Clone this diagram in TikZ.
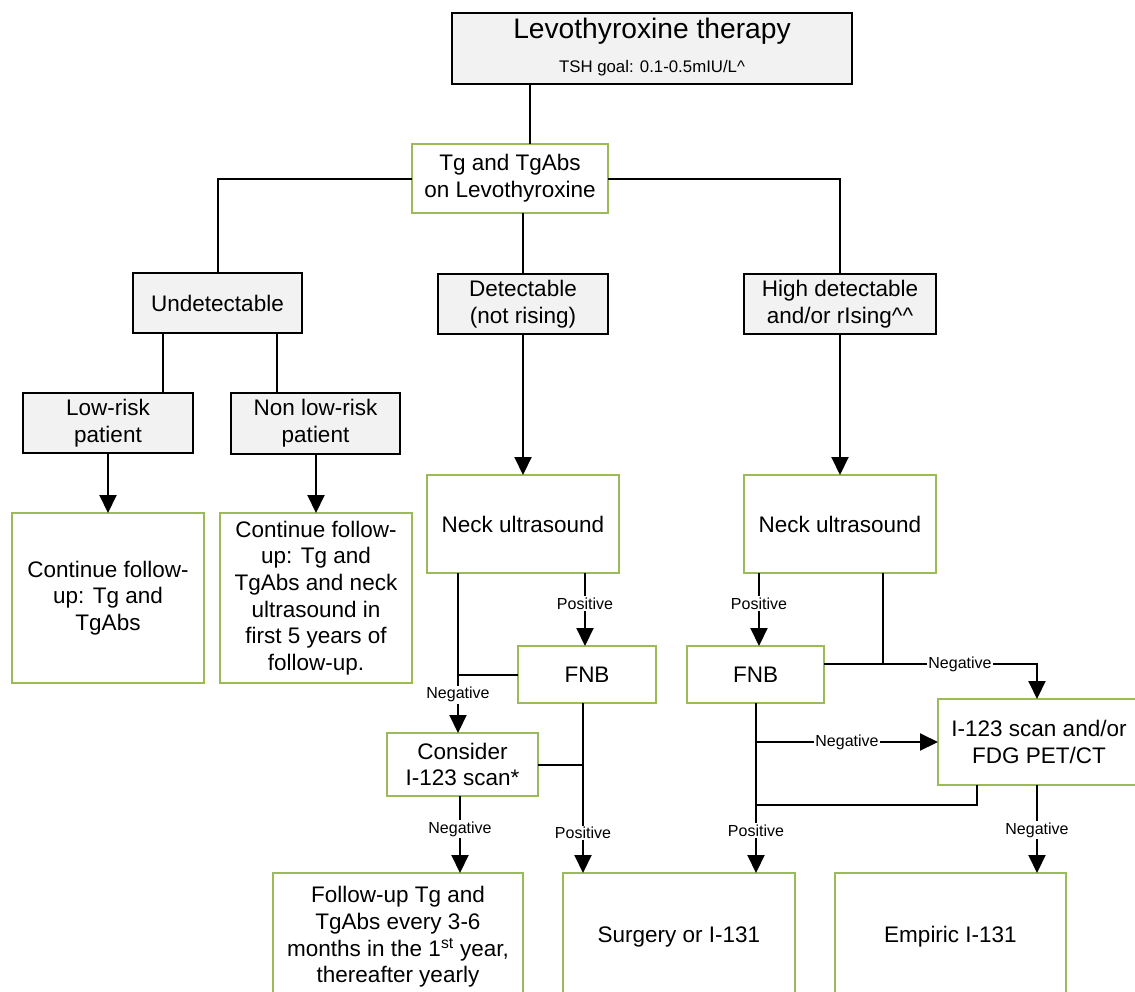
\documentclass[tikz,border=0pt]{standalone}
\usepackage{fontspec}
\setmainfont{Liberation Sans}
\usetikzlibrary{arrows.meta}
\definecolor{boxgreen}{HTML}{9BBB59}
\definecolor{boxgray}{HTML}{F2F2F2}
\tikzset{
  base/.style={rectangle, inner sep=0pt, outer sep=0pt, align=center,
    font=\fontsize{22.5}{26.7}\selectfont, line width=2pt},
  graybox/.style={base, draw=black, fill=boxgray},
  greenbox/.style={base, draw=boxgreen, fill=white},
  conn/.style={line width=2pt, draw=black},
  arr/.style={conn, -{Triangle[length=18pt,width=17pt]}},
  lbl/.style={fill=white, inner sep=1.5pt, font=\fontsize{16}{18}\selectfont},
}
\begin{document}
\begin{tikzpicture}[x=1pt,y=-1pt]
\useasboundingbox (0,0) rectangle (1135,991);
\fill[white] (0,0) rectangle (1135,991);

% nodes
\node[graybox, minimum width=400pt, minimum height=71pt] (top) at (652,48.5) {};
\node[base, font=\fontsize{28.2}{31}\selectfont] (toptitle) at (652,31) {Levothyroxine therapy};
\node[base, font=\fontsize{16.8}{19}\selectfont] (topsub) at (652,68) {TSH goal: 0.1-0.5mIU/L\textasciicircum};

\node[greenbox, minimum width=196pt, minimum height=69pt] (tg) at (510,178.5) {Tg and TgAbs\\on Levothyroxine};

\node[graybox, minimum width=169pt, minimum height=60pt] (und) at (217.5,303) {Undetectable};
\node[graybox, minimum width=170pt, minimum height=60pt] (det) at (523,304) {Detectable\\(not rising)};
\node[graybox, minimum width=192pt, minimum height=60pt] (high) at (840,304) {High detectable\\and/or rIsing\textasciicircum\textasciicircum};

\node[graybox, minimum width=170pt, minimum height=60pt] (low) at (108,423) {Low-risk\\patient};
\node[graybox, minimum width=169pt, minimum height=61pt] (nonlow) at (315.5,423.5) {Non low-risk\\patient};

\node[greenbox, minimum width=192pt, minimum height=170pt] (cont1) at (108,598) {Continue follow-\\up: Tg and\\TgAbs};
\node[greenbox, minimum width=192pt, minimum height=170pt] (cont2) at (316,598) {Continue follow-\\up: Tg and\\TgAbs and neck\\ultrasound in\\first 5 years of\\follow-up.};

\node[greenbox, minimum width=192pt, minimum height=98pt] (neck1) at (523,524) {Neck ultrasound};
\node[greenbox, minimum width=192pt, minimum height=98pt] (neck2) at (840,524) {Neck ultrasound};

\node[greenbox, minimum width=138pt, minimum height=57pt] (fnb1) at (587,674.5) {FNB};
\node[greenbox, minimum width=137pt, minimum height=57pt] (fnb2) at (755.5,674.5) {FNB};

\node[greenbox, minimum width=151pt, minimum height=63pt] (cons) at (462.5,764.5) {Consider\\I-123 scan*};
\node[greenbox, minimum width=202pt, minimum height=86pt] (i123) at (1039,742) {I-123 scan and/or\\FDG PET/CT};

\node[greenbox, minimum width=250pt, minimum height=128pt] (fol) at (398,937) {Follow-up Tg and\\TgAbs every 3-6\\months in the 1\textsuperscript{st} year,\\thereafter yearly};
\node[greenbox, minimum width=232pt, minimum height=128pt] (surg) at (679,937) {Surgery or I-131};
\node[greenbox, minimum width=231pt, minimum height=128pt] (emp) at (950.5,937) {Empiric I-131};

% column / junction coordinates
\coordinate (c530) at (530,0);
\coordinate (c163) at (163,0);
\coordinate (c277) at (277,0);
\coordinate (c585) at (585,0);
\coordinate (c458) at (458,0);
\coordinate (c583) at (583,0);
\coordinate (c460) at (460,0);
\coordinate (c759) at (759,0);
\coordinate (c756) at (756,0);
\coordinate (c1037) at (1037,0);
\coordinate (n2) at (883,664);
\coordinate (j2) at (977,805);

% connectors
\draw[conn] (top.south -| c530) -- (tg.north -| c530);
\draw[conn] (tg.west) -| (und.north);
\draw[conn] (tg.south -| det.north) -- (det.north);
\draw[conn] (tg.east) -| (high.north);

\draw[conn] (und.south -| c163) -- (low.north -| c163);
\draw[conn] (und.south -| c277) -- (nonlow.north -| c277);
\draw[arr] (low.south) -- (cont1.north);
\draw[arr] (nonlow.south -| cont2.north) -- (cont2.north);

\draw[arr] (det.south) -- (neck1.north);
\draw[arr] (high.south) -- (neck2.north);

% middle branch
\draw[arr] (neck1.south -| c585) -- node[lbl, pos=0.42]{Positive} (fnb1.north -| c585);
\draw[arr] (neck1.south -| c458) -- node[lbl, pos=0.76]{Negative} (cons.north -| c458);
\draw[conn] (fnb1.west) -- (fnb1.west -| c458);
\draw[arr] (fnb1.south -| c583) -- node[lbl, pos=0.765]{Positive} (surg.north -| c583);
\draw[conn] (cons.east) -- (cons.east -| c583);
\draw[arr] (cons.south -| c460) -- node[lbl, pos=0.43]{Negative} (fol.north -| c460);

% right branch
\draw[arr] (neck2.south -| c759) -- node[lbl, pos=0.42]{Positive} (fnb2.north -| c759);
\draw[conn] (neck2.south -| n2) -- (n2);
\draw[arr] (fnb2.east |- n2) -- (n2) -- node[lbl]{Negative} (n2 -| c1037) -- (i123.north -| c1037);
\draw[arr] (fnb2.south -| c756) -- node[lbl, pos=0.75]{Positive} (surg.north -| c756);
\draw[arr] (i123.west -| c756) -- node[lbl]{Negative} (i123.west);
\draw[conn] (i123.south -| j2) -- (j2) -- (j2 -| c756);
\draw[arr] (i123.south -| c1037) -- node[lbl, pos=0.51]{Negative} (emp.north -| c1037);
\end{tikzpicture}
\end{document}
